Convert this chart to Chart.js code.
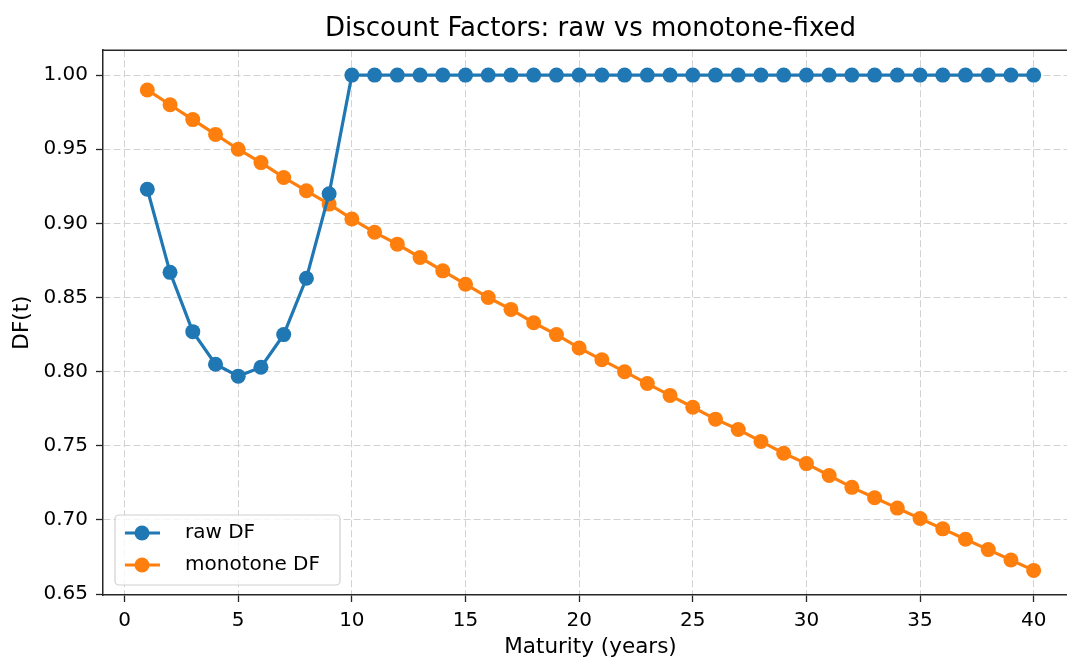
<!DOCTYPE html>
<html>
<head>
<meta charset="utf-8">
<script src="https://cdn.jsdelivr.net/npm/chart.js@4"></script>
<style>
  html, body { margin: 0; padding: 0; background: #fff; overflow: hidden; }
  canvas { display: block; }
</style>
</head>
<body>
<canvas id="chart" width="1090" height="660"></canvas>
<script>
// maturities in years
const maturities = [];
for (let t = 1; t <= 40; t++) maturities.push(t);

// raw discount factors
const rawDF = [
  0.923, 0.867, 0.827, 0.805, 0.797, 0.803, 0.825, 0.863, 0.920, 1.000,
  1.000, 1.000, 1.000, 1.000, 1.000, 1.000, 1.000, 1.000, 1.000, 1.000,
  1.000, 1.000, 1.000, 1.000, 1.000, 1.000, 1.000, 1.000, 1.000, 1.000,
  1.000, 1.000, 1.000, 1.000, 1.000, 1.000, 1.000, 1.000, 1.000, 1.000
];

// monotone-fixed discount factors
const monoDF = [
  0.990, 0.980, 0.970, 0.960, 0.950, 0.941, 0.931, 0.922, 0.913, 0.903,
  0.894, 0.886, 0.877, 0.868, 0.859, 0.850, 0.842, 0.833, 0.825, 0.816,
  0.808, 0.800, 0.792, 0.784, 0.776, 0.768, 0.761, 0.753, 0.745, 0.738,
  0.730, 0.722, 0.715, 0.708, 0.701, 0.694, 0.687, 0.680, 0.673, 0.666
];

const xTicks = [0, 5, 10, 15, 20, 25, 30, 35, 40];
const yTicks = [0.65, 0.70, 0.75, 0.80, 0.85, 0.90, 0.95, 1.00];

const BLUE = '#1f77b4';
const ORANGE = '#ff7f0e';
const FONT = 'DejaVu Sans';

const toPoints = vals => maturities.map((t, i) => ({ x: t, y: vals[i] }));

// box-style axes and a legend inside the plot, like matplotlib
const framePlugin = {
  id: 'frame',
  afterDraw(chart) {
    const { ctx, chartArea: a } = chart;
    ctx.save();
    ctx.strokeStyle = '#262626';
    ctx.lineWidth = 1.5;
    ctx.beginPath();
    ctx.moveTo(a.left, a.top);
    ctx.lineTo(a.right, a.top);
    ctx.lineTo(a.right, a.bottom);
    ctx.stroke();

    // legend box
    const bx = a.left + 12, by = a.bottom - 80, bw = 225, bh = 70;
    ctx.fillStyle = 'rgba(255,255,255,0.8)';
    ctx.strokeStyle = '#d0d0d0';
    ctx.lineWidth = 1.2;
    ctx.beginPath();
    ctx.roundRect(bx, by, bw, bh, 4);
    ctx.fill();
    ctx.stroke();

    ctx.font = '20px "' + FONT + '"';
    ctx.textBaseline = 'middle';
    chart.data.datasets.forEach((ds, i) => {
      const y = by + 18 + i * 32;
      ctx.strokeStyle = ds.borderColor;
      ctx.lineWidth = 3;
      ctx.beginPath();
      ctx.moveTo(bx + 10, y);
      ctx.lineTo(bx + 45, y);
      ctx.stroke();
      ctx.fillStyle = ds.borderColor;
      ctx.beginPath();
      ctx.arc(bx + 27, y, 7.5, 0, Math.PI * 2);
      ctx.fill();
      ctx.fillStyle = '#000';
      ctx.fillText(ds.label, bx + 70, y);
    });
    ctx.restore();
  }
};

new Chart(document.getElementById('chart'), {
  type: 'line',
  data: {
    datasets: [
      {
        label: 'raw DF',
        data: toPoints(rawDF),
        borderColor: BLUE,
        backgroundColor: BLUE,
        borderWidth: 3.2,
        pointRadius: 7.5,
        pointHoverRadius: 7.5,
        pointBorderWidth: 0,
        tension: 0
      },
      {
        label: 'monotone DF',
        data: toPoints(monoDF),
        borderColor: ORANGE,
        backgroundColor: ORANGE,
        borderWidth: 3.2,
        pointRadius: 7.5,
        pointHoverRadius: 7.5,
        pointBorderWidth: 0,
        tension: 0
      }
    ]
  },
  options: {
    responsive: false,
    animation: false,
    devicePixelRatio: 1,
    layout: { padding: { left: 0, right: 12, top: 10, bottom: 0 } },
    plugins: {
      legend: { display: false },
      tooltip: { enabled: false },
      title: {
        display: true,
        fullSize: false,
        text: 'Discount Factors: raw vs monotone-fixed',
        color: '#000',
        font: { family: FONT, size: 26, weight: 'normal' },
        padding: { top: 4, bottom: 5 }
      }
    },
    scales: {
      x: {
        type: 'linear',
        min: -0.95,
        max: 41.95,
        afterBuildTicks: s => { s.ticks = xTicks.map(v => ({ value: v })); },
        afterFit: s => { s.height = 65; },
        ticks: {
          color: '#000',
          font: { family: FONT, size: 20 },
          padding: 7,
          maxRotation: 0,
          callback: v => String(v)
        },
        grid: {
          color: '#d2d2d2',
          lineWidth: 1,
          tickLength: 7,
          tickColor: '#262626',
          tickWidth: 1.3,
          tickBorderDash: []
        },
        border: { color: '#262626', width: 1.5, dash: [7, 3] },
        title: {
          display: true,
          text: 'Maturity (years)',
          color: '#000',
          font: { family: FONT, size: 21.5 },
          padding: { top: 0, bottom: 0 }
        }
      },
      y: {
        type: 'linear',
        min: 0.6494,
        max: 1.0168,
        afterBuildTicks: s => { s.ticks = yTicks.map(v => ({ value: v })); },
        afterFit: s => { s.width = 103; },
        ticks: {
          color: '#000',
          font: { family: FONT, size: 20 },
          padding: 8,
          callback: v => v.toFixed(2)
        },
        grid: {
          color: '#d2d2d2',
          lineWidth: 1,
          tickLength: 7,
          tickColor: '#262626',
          tickWidth: 1.3,
          tickBorderDash: []
        },
        border: { color: '#262626', width: 1.5, dash: [7, 3] },
        title: {
          display: true,
          text: 'DF(t)',
          color: '#000',
          font: { family: FONT, size: 21.5 },
          padding: { top: 10, bottom: 0 }
        }
      }
    }
  },
  plugins: [framePlugin]
});
</script>
</body>
</html>
